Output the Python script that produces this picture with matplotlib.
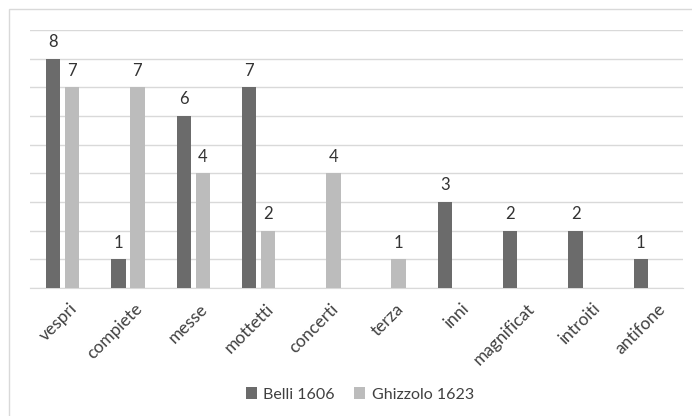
import matplotlib.pyplot as plt
import numpy as np
from matplotlib.patches import Rectangle

categories = ["vespri", "compiete", "messe", "mottetti", "concerti",
              "terza", "inni", "magnificat", "introiti", "antifone"]
belli = [8, 1, 6, 7, 0, 0, 3, 2, 2, 1]
ghizzolo = [7, 7, 4, 2, 4, 1, 0, 0, 0, 0]

plt.rcParams['font.family'] = ['Lato', 'DejaVu Sans']

fig = plt.figure(figsize=(6.92, 4.16), dpi=100)
fig.patches.append(Rectangle((9 / 692, -0.1), 1.2, 1 - 9 / 416 + 0.1,
                             transform=fig.transFigure, fill=False,
                             edgecolor='#d9d9d9', linewidth=1))
ax = fig.add_axes([30 / 692, 1 - 288 / 416, 653 / 692, 258 / 416])

x = np.arange(len(categories))
w = 0.22
off = 0.145
dark = '#6b6b6b'
light = '#bcbcbc'

for vals, dx, col, lab in [(belli, -off, dark, 'Belli 1606'),
                           (ghizzolo, off, light, 'Ghizzolo 1623')]:
    ax.bar(x + dx, vals, w, color=col, label=lab, zorder=3)
    for xi, val in zip(x + dx, vals):
        if val > 0:
            ax.text(xi, val + 0.3, str(val), ha='center', va='bottom',
                    fontsize=12, color='#333333')

ax.set_xlim(-0.5, len(categories) - 0.5)
ax.set_ylim(0, 9)
ax.set_yticks(range(0, 10))
ax.set_yticklabels([])
ax.tick_params(axis='y', length=0)
ax.grid(axis='y', color='#d9d9d9', linewidth=1, zorder=0)
ax.set_xticks(x + 0.1)
ax.set_xticklabels(categories, rotation=45, ha='right', rotation_mode='anchor',
                   fontsize=12.5, color='#404040')
ax.tick_params(axis='x', length=0, pad=9)
for s in ['top', 'right', 'left']:
    ax.spines[s].set_visible(False)
ax.spines['bottom'].set_color('#d9d9d9')

fig.legend(loc='lower center', bbox_to_anchor=(0.52, 0.0), ncol=2, frameon=False,
           fontsize=11.5, labelcolor='#404040', handlelength=0.7, handleheight=0.7,
           handletextpad=0.4, columnspacing=1.2)

fig.savefig('out.png', dpi=100)
